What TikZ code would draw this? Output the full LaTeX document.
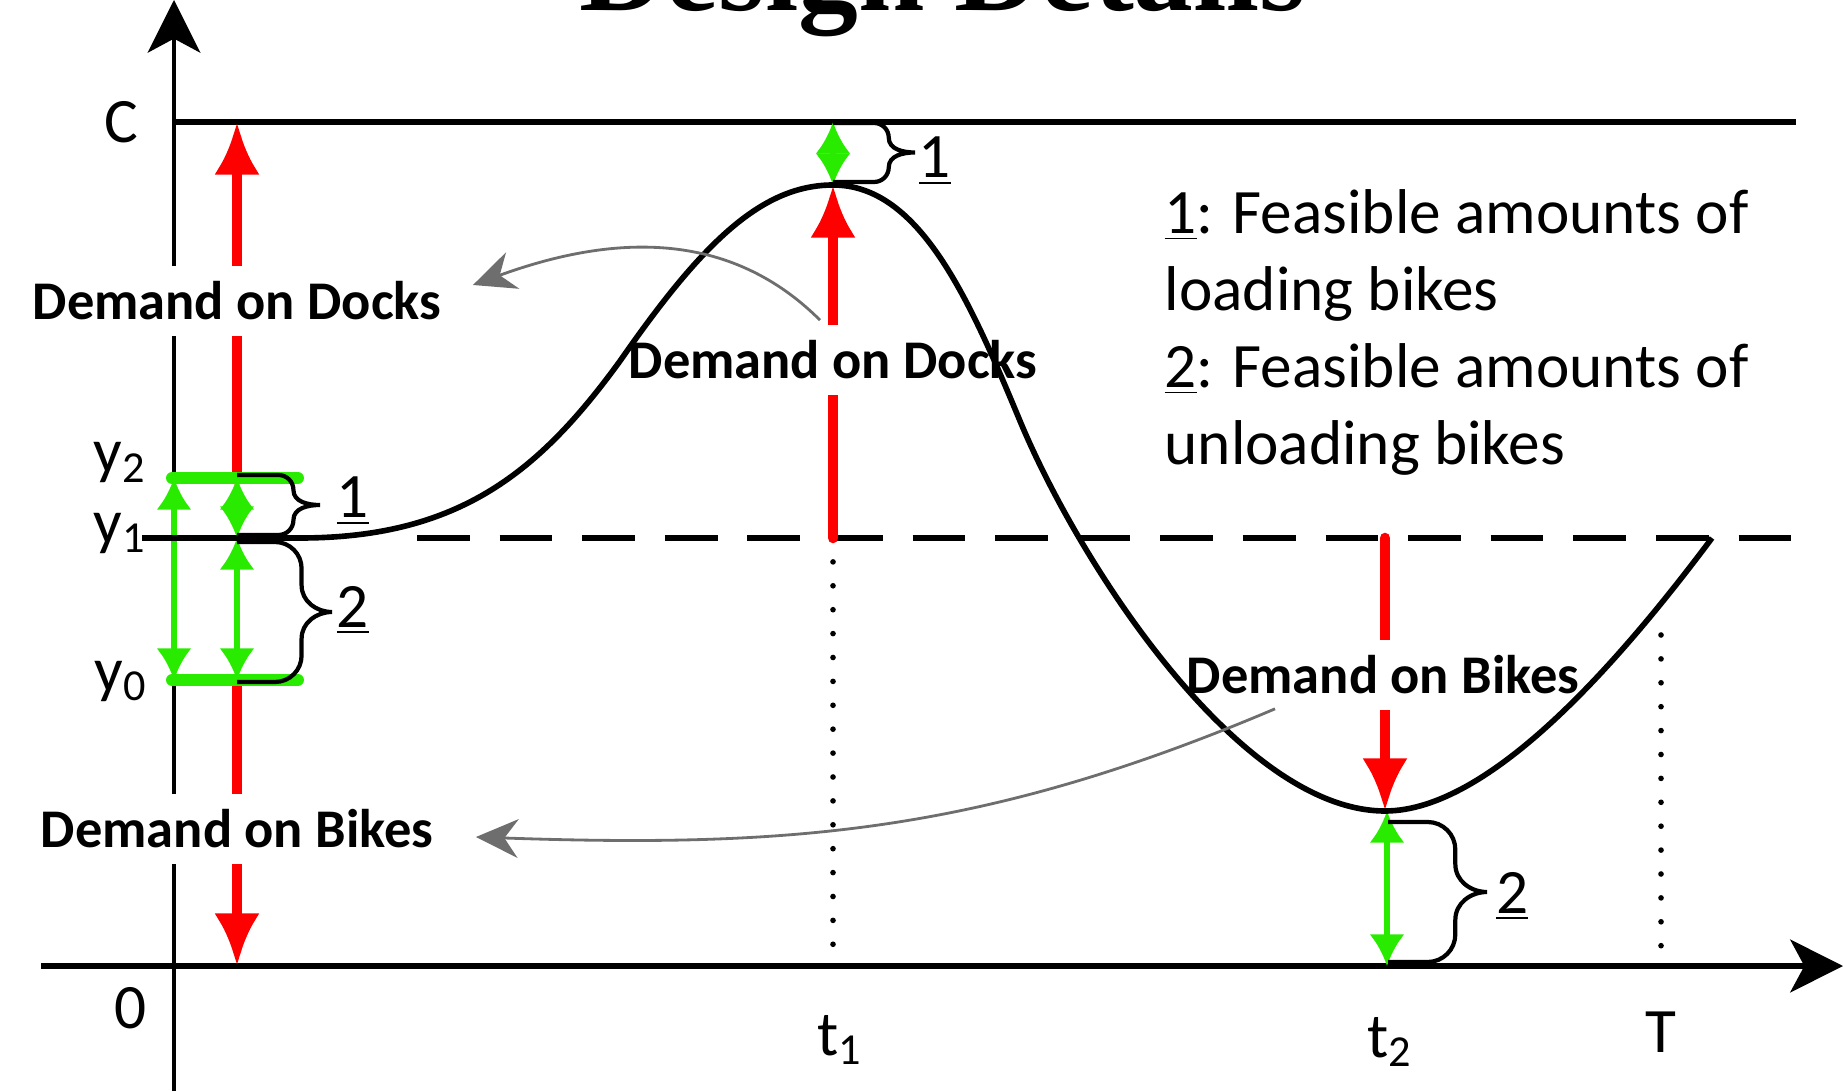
\documentclass[tikz,border=0pt]{standalone}
\usepackage{fontspec}
\setmainfont{Carlito}
\newfontfamily\titlefont{Liberation Serif}
\usepackage{tikz}
\usetikzlibrary{arrows.meta,positioning}

\definecolor{dred}{RGB}{255,0,0}
\definecolor{lgreen}{RGB}{40,235,0}
\definecolor{ptrgray}{RGB}{110,110,110}

% right curly brace: x, y top, y bottom, width
\newcommand{\feasbrace}[4]{%
  \pgfmathsetmacro{\brB}{#1+0.68*#4}%
  \pgfmathsetmacro{\brT}{#1+#4}%
  \pgfmathsetmacro{\brM}{(#2+#3)/2}%
  \pgfmathsetmacro{\brR}{min(0.28*#4,(#2-#3)/4)}%
  \draw[brc] (#1,#2) -- ({\brB-\brR},#2) to[out=0,in=90] (\brB,{#2-\brR})
    -- (\brB,{\brM+\brR}) to[out=-90,in=180] (\brT,\brM)
    to[out=180,in=90] (\brB,{\brM-\brR}) -- (\brB,{#3+\brR})
    to[out=-90,in=0] ({\brB-\brR},#3) -- (#1,#3);
}

\begin{document}
\begin{tikzpicture}[
    font=\fontsize{18}{22}\selectfont,
    axisarrow/.style={-{Stealth[length=15pt,width=15pt,inset=4pt]}},
    level/.style={line width=1.6pt},
    dotline/.style={line width=1.6pt, line cap=round, dash pattern=on 0pt off 6.8pt},
    demand/.style={dred, line width=3pt, line cap=round, -{Latex[length=15pt,width=13pt]}},
    feas/.style={lgreen, line width=1.5pt, {Latex[length=9pt,width=10pt]}-{Latex[length=9pt,width=10pt]}},
    bar/.style={lgreen, line width=3.4pt, line cap=round},
    dlabel/.style={fill=white, font=\fontsize{15.5}{18}\selectfont\bfseries, inner xsep=2pt, inner ysep=4.5pt},
    curve/.style={line width=1.6pt},
    brc/.style={line width=1.2pt},
    pointer/.style={ptrgray, line width=0.8pt, -{Stealth[length=12pt,width=11pt]}},
    tick/.style={anchor=base east, inner sep=0pt}
]
    \useasboundingbox (0,0) rectangle (18.43,10.91);

    % capacity, threshold, axes
    \draw[level] (1.74,9.69) -- (17.96,9.69);
    \draw[level, dash pattern=on 15pt off 8.5pt] (4.17,5.53) -- (17.96,5.53);
    \draw[line width=1.1pt, axisarrow] (1.74,0) -- (1.74,10.91);
    \draw[line width=1.7pt, axisarrow] (0.41,1.25) -- (18.43,1.25);
    \draw[dotline] (8.33,5.53) -- (8.33,1.25);
    \draw[dotline] (13.87,2.80) -- (13.87,1.25);
    \draw[dotline] (16.61,4.56) -- (16.61,1.25);

    % demand arrows
    \draw[demand] (2.37,6.11) -- (2.37,9.69);
    \draw[demand] (2.37,4.11) -- (2.37,1.25);
    \draw[demand] (8.33,5.53) -- (8.33,9.06);
    \draw[demand] (13.85,5.53) -- (13.85,2.80);

    % feasible ranges
    \draw[bar] (1.72,6.13) -- (2.98,6.13);
    \draw[bar] (1.72,4.11) -- (2.98,4.11);
    \draw[feas] (1.74,6.13) -- (1.74,4.11);
    \draw[feas] (2.37,6.13) -- (2.37,5.53);
    \draw[feas] (2.37,5.53) -- (2.37,4.11);
    \draw[feas] (8.33,9.69) -- (8.33,9.06);
    \draw[feas] (13.87,2.80) -- (13.87,1.25);

    \node[dlabel] (dockleft) at (2.37,7.90) {Demand on Docks};
    \node[dlabel] (dockmid) at (8.33,7.31) {Demand on Docks};
    \node[dlabel] (bikemid) at (13.83,4.16) {Demand on Bikes};
    \node[dlabel] (bikeleft) at (2.37,2.62) {Demand on Bikes};

    % inventory curve
    \draw[curve] (1.42,5.53) -- (3.0,5.53)
        .. controls (4.6,5.53) and (5.4,6.2) .. (6.2,7.3)
        .. controls (7.0,8.45) and (7.6,9.06) .. (8.33,9.06)
        .. controls (9.2,9.06) and (9.7,7.9) .. (10.2,6.7)
        .. controls (10.8,5.26) and (12.4,2.80) .. (13.85,2.80)
        .. controls (14.9,2.80) and (16.2,4.3) .. (17.12,5.53);

    % braces
    \feasbrace{2.37}{6.16}{5.56}{0.83}
    \feasbrace{2.37}{5.49}{4.09}{0.95}
    \feasbrace{8.33}{9.68}{9.09}{0.82}
    \feasbrace{13.88}{2.69}{1.29}{0.99}
    \node[anchor=base] (one1) at (3.53,5.73) {\underline{1}};
    \node[anchor=base] (two1) at (3.53,4.64) {\underline{2}};
    \node[anchor=base] (one2) at (9.35,9.13) {\underline{1}};
    \node[anchor=base] (two2) at (15.12,1.78) {\underline{2}};

    \draw[pointer] ([xshift=-0.13cm,yshift=0.04cm]dockmid.north) to[out=135,in=20]
        ([xshift=0.24cm,yshift=0.16cm]dockleft.east);
    \draw[pointer] ([xshift=-1.08cm,yshift=0.02cm]bikemid.south) to[out=203,in=-2]
        ([xshift=0.35cm,yshift=-0.08cm]bikeleft.east);

    % axis labels
    \node[tick] (lc) at (1.39,9.48) {C};
    \node[tick] (ly2) at (1.47,6.18) {y\textsubscript{2}};
    \node[tick] (ly1) at (1.47,5.48) {y\textsubscript{1}};
    \node[tick] (ly0) at (1.48,4.00) {y\textsubscript{0}};
    \node[tick] (lo) at (1.47,0.63) {0};
    \node[anchor=base] (lt1) at (8.40,0.36) {t\textsubscript{1}};
    \node[anchor=base] (lt2) at (13.90,0.34) {t\textsubscript{2}};
    \node[anchor=base] (lT) at (16.61,0.39) {T};

    \node[anchor=north west, inner sep=0pt, align=left,
          font=\fontsize{18}{21.9}\selectfont] (legend) at (11.64,9.02)
        {\underline{1}: Feasible amounts of\\loading bikes\\
         \underline{2}: Feasible amounts of\\unloading bikes};

    \node[anchor=base, font=\titlefont\fontsize{34}{40}\selectfont\bfseries] (title)
        at (9.43,10.80) {Design Details};
\end{tikzpicture}
\end{document}
